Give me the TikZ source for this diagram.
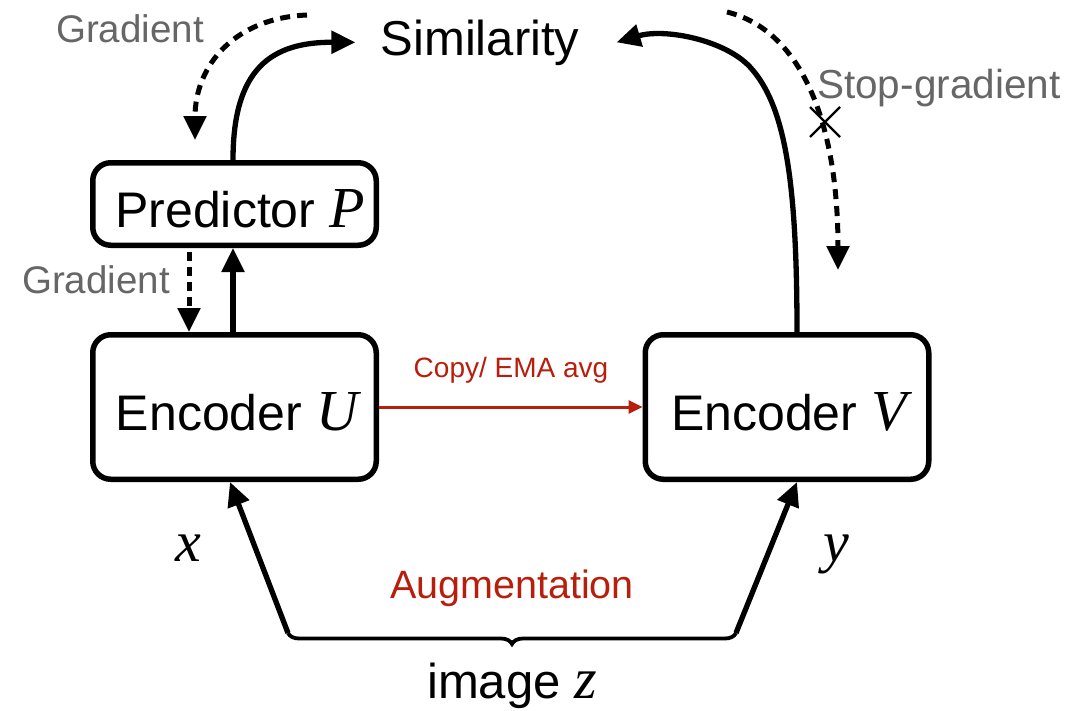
\documentclass[tikz,border=0pt]{standalone}
\usepackage{fontspec}
\setmainfont{Liberation Sans}
\newfontfamily\tms{Liberation Serif}
\usetikzlibrary{arrows.meta,decorations.pathreplacing,calc}
\definecolor{augred}{RGB}{184,30,12}
\definecolor{gradgray}{RGB}{102,102,102}
\newcommand\fs[1]{\fontsize{#1}{#1}\selectfont}
\newcommand\mv[1]{{\fs{58}\tms\itshape #1}}
\begin{document}
\begin{tikzpicture}[x=1pt,y=-1pt,
  blk/.style={draw, line width=5.5pt, rounded corners=18pt, minimum width=283.5pt, inner sep=0pt},
  txt/.style={anchor=base, inner sep=0pt},
  flow/.style={line width=5.3pt, -{Triangle[length=24pt,width=22pt]}},
  grad/.style={flow, line width=5pt, dash pattern=on 10pt off 7pt},
  copyarrow/.style={augred, line width=3pt, -{Triangle[length=14pt,width=13pt]}},
  gtxt/.style={txt, text=gradgray, font=\fs{38.5}},
]
\useasboundingbox (0,0) rectangle (1069,710);

% blocks
\node[blk, minimum height=82.5pt]  (pred) at (234.5,204) {};
\node[blk, minimum height=144.5pt] (encU) at (234.5,407) {};
\node[blk, minimum height=144.5pt] (encV) at (787,407) {};

% block labels
\node[txt] (predlbl) at (240,227) {\fs{50}Predictor \mv{P}};
\node[txt] (encUlbl) at (237,430) {\fs{50}Encoder \mv{U}};
\node[txt] (encVlbl) at (789,430) {\fs{50}Encoder \mv{V}};
\node[txt] (sim) at (480,55) {\fs{49}Similarity};

% side texts
\node[gtxt] (gradtop) at (130,42) {Gradient};
\node[gtxt] (gradmid) at (96,293) {Gradient};
\node[gtxt, anchor=base west, font=\fs{40.5}] (stopg) at (817,98) {Stop-gradient};
\node[txt, text=augred] (copylbl) at (511,377) {\fs{28}Copy/ EMA avg};
\node[txt, text=augred] (auglbl) at (512,598) {\fs{39.5}Augmentation};
\node[txt] (imglbl) at (512,698) {\fs{49}image \mv{z}};
\node[txt] (xlbl) at (188,561) {\mv{x}};
\node[txt] (ylbl) at (836,561) {\mv{y}};

% forward path through the predictor
\draw[flow] ([xshift=-1.5pt]encU.north) -- ([xshift=-1.5pt]pred.south);
\draw[flow] ([xshift=-1.5pt]pred.north) .. controls (233,70) and (270,42) .. ($(sim.west)+(-25,0)$);

% gradient flowing back
\coordinate (g1) at (307,15);
\draw[grad] (g1) .. controls (235,18) and (195,65) .. ($(pred.north)+(-39.5,-20)$);
\draw[grad, dash pattern=on 9pt off 6pt] ([xshift=-45.5pt,yshift=-4pt]pred.south) -- ([xshift=-45.5pt]encU.north);

% target branch
\coordinate (bend) at (750,67);
\draw[flow] ([xshift=10pt]encV.north) .. controls (797,180) and (785,105) .. (bend)
  .. controls (725,40) and (665,28) .. ($(sim.east)+(37,0)$);

% stopped gradient
\coordinate (s1) at (727,12);
\coordinate (s2) at (838,270);
\draw[grad] (s1) .. controls (800,30) and (838,120) .. (s2);
\coordinate (stopx) at (825,122);
\draw[line width=2.2pt] ($(stopx)+(-15,-15)$) -- ($(stopx)+(15,15)$);
\draw[line width=2.2pt] ($(stopx)+(-15,15)$) -- ($(stopx)+(15,-15)$);

% weight copy
\draw[copyarrow] (encU.east) -- (encV.west);

% augmentation of the input image
\coordinate (zl) at (288,633);
\coordinate (zr) at (736,633);
\draw[line width=3.8pt, decorate, decoration={brace, mirror, amplitude=11pt}] (zl) -- (zr);
\draw[flow] (zl) -- ([xshift=-4.5pt]encU.south);
\draw[flow] (zr) -- ([xshift=10pt]encV.south);
\end{tikzpicture}
\end{document}
